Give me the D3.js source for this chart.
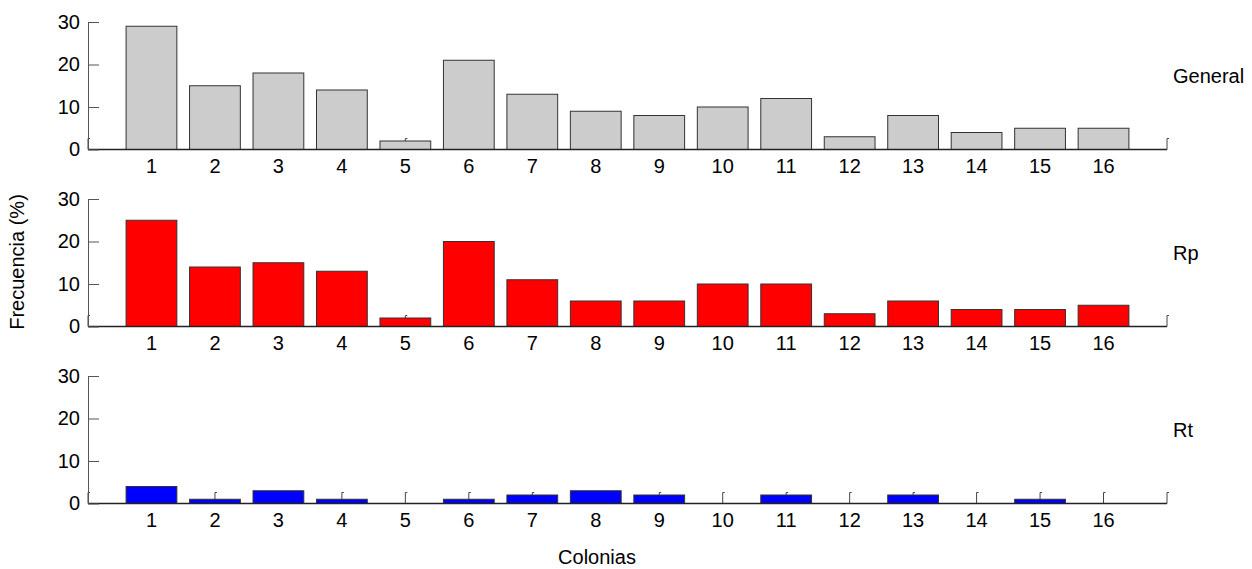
<!DOCTYPE html>
<html>
<head>
<meta charset="utf-8">
<script src="https://cdn.jsdelivr.net/npm/d3@7"></script>
<style>
  body { margin: 0; background: #fff; }
  svg text { font-family: "Liberation Sans", Arial, sans-serif; fill: #000; }
</style>
</head>
<body>
<div id="chart"></div>
<script>
(function () {
  'use strict';

  // colonias 1..16
  const colonias = d3.range(1, 17);
  const general = [29, 15, 18, 14, 2, 21, 13, 9, 8, 10, 12, 3, 8, 4, 5, 5];
  const rp = [25, 14, 15, 13, 2, 20, 11, 6, 6, 10, 10, 3, 6, 4, 4, 5];
  const rt = [4, 1, 3, 1, 0, 1, 2, 3, 2, 0, 2, 0, 2, 0, 1, 0];
  const yTicks = [0, 10, 20, 30];

  const panels = [
    { name: 'General', values: general, color: '#cccccc', top: 22 },
    { name: 'Rp', values: rp, color: '#ff0000', top: 199 },
    { name: 'Rt', values: rt, color: '#0000ff', top: 376 }
  ];

  const width = 1252, height = 569;
  const panelH = 127.5;

  const svg = d3.select('#chart')
    .append('svg')
    .attr('width', width)
    .attr('height', height);

  // shared x scale, 0..17 like the matlab axes
  const x = d3.scaleLinear().domain([0, 17]).range([88, 1167]);
  const barW = x(0.8) - x(0);

  panels.forEach((p) => {
    const y = d3.scaleLinear().domain([0, 30]).range([p.top + panelH, p.top]);
    const g = svg.append('g');

    // x ticks (drawn first, bars cover them)
    g.append('g')
      .selectAll('path')
      .data(d3.range(0, 18))
      .join('path')
      .attr('d', (d) => `M${x(d)},${y(0)}V${y(0) - 11}h2`)
      .attr('fill', 'none')
      .attr('stroke', '#444')
      .attr('stroke-width', 1);

    // bars
    g.append('g')
      .selectAll('rect')
      .data(p.values)
      .join('rect')
      .attr('x', (d, i) => x(colonias[i]) - barW / 2)
      .attr('y', (d) => y(d))
      .attr('width', barW)
      .attr('height', (d) => y(0) - y(d))
      .attr('fill', p.color)
      .attr('stroke', '#333')
      .attr('stroke-width', 1);

    // baseline
    g.append('line')
      .attr('x1', x(0)).attr('x2', x(17))
      .attr('y1', y(0)).attr('y2', y(0))
      .attr('stroke', '#222')
      .attr('stroke-width', 1.5);

    // y axis, ticks pointing inward
    const yAxis = d3.axisLeft(y)
      .tickValues(yTicks)
      .tickSizeInner(-11)
      .tickSizeOuter(0)
      .tickPadding(8);
    const ay = g.append('g')
      .attr('transform', `translate(${x(0)},0)`)
      .call(yAxis);
    ay.select('.domain').attr('stroke', '#555');
    ay.selectAll('.tick line').attr('stroke', '#555');
    ay.selectAll('text')
      .attr('font-size', 20)
      .attr('font-family', '"Liberation Sans", Arial, sans-serif')
      .attr('fill', '#000');

    // x labels
    g.append('g')
      .selectAll('text')
      .data(colonias)
      .join('text')
      .attr('x', (d) => x(d))
      .attr('y', y(0) + 23)
      .attr('text-anchor', 'middle')
      .attr('font-size', 20)
      .text((d) => d);

    // panel name
    g.append('text')
      .attr('x', 1173)
      .attr('y', y(18) + 10)
      .attr('font-size', 20)
      .text(p.name);
  });

  svg.append('text')
    .attr('transform', 'translate(24,262) rotate(-90)')
    .attr('text-anchor', 'middle')
    .attr('font-size', 20)
    .attr('fill', '#333')
    .text('Frecuencia (%)');

  svg.append('text')
    .attr('x', 597)
    .attr('y', 564)
    .attr('text-anchor', 'middle')
    .attr('font-size', 20)
    .attr('fill', '#333')
    .text('Colonias');
})();
</script>
</body>
</html>
